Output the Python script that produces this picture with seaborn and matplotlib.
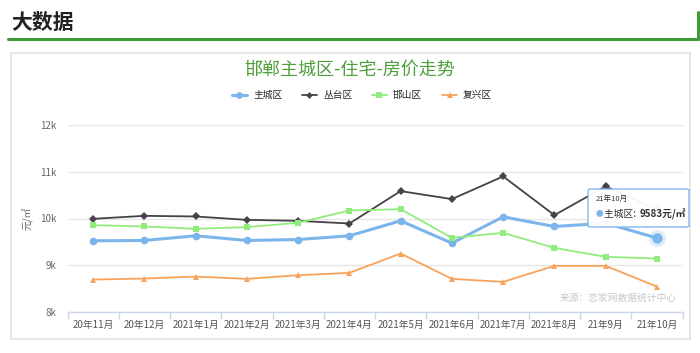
import numpy as np
import pandas as pd
import seaborn as sns
import matplotlib.pyplot as plt
from matplotlib.patches import Rectangle, FancyBboxPatch
from matplotlib.lines import Line2D

# data (元/㎡)
months = ['20年11月', '20年12月', '2021年1月', '2021年2月', '2021年3月', '2021年4月',
          '2021年5月', '2021年6月', '2021年7月', '2021年8月', '21年9月', '21年10月']
zhucheng = [9523, 9530, 9630, 9530, 9550, 9630, 9950, 9473, 10036, 9829, 9900, 9583]
congtai = [9993, 10057, 10043, 9971, 9950, 9893, 10586, 10415, 10900, 10072, 10686, 10200]
hanshan = [9858, 9829, 9779, 9815, 9908, 10171, 10200, 9587, 9693, 9372, 9180, 9144]
fuxing = [8694, 8716, 8758, 8709, 8787, 8837, 9251, 8709, 8644, 8987, 8987, 8544]
names = ['主城区', '丛台区', '邯山区', '复兴区']
yticks = [8000, 9000, 10000, 11000, 12000]
ytick_labels = ['8k', '9k', '10k', '11k', '12k']

sns.set_theme(style='white')
plt.rcParams['font.family'] = ['Noto Sans CJK SC', 'DejaVu Sans']

colors = ['#7cb5ec', '#434348', '#90ed7d', '#f7a35c']
markers = ['o', 'D', 's', '^']
msizes = [5.5, 3.8, 5, 5]
lwidths = [2.2, 1.3, 1.3, 1.3]

W, H = 700, 353
fig = plt.figure(figsize=(W / 100, H / 100), dpi=100)

def fx(px):
    return px / W

def fy(py):
    return 1 - py / H

# page header
fig.text(fx(11), fy(22), '大数据', fontsize=15, fontweight='bold', color='#222222',
         va='center', ha='left')
fig.add_artist(Line2D([fx(8), fx(698)], [fy(38.5), fy(38.5)], color='#3f9a35', lw=2.2))
fig.add_artist(Line2D([fx(698), fx(698)], [fy(12), fy(39)], color='#3f9a35', lw=2.2))
# chart frame
fig.add_artist(Rectangle((fx(11), fy(339)), fx(690) - fx(11), fy(53) - fy(339),
                         transform=fig.transFigure, fill=False, edgecolor='#e2e2e2', lw=1.2))

fig.text(0.5, fy(70), '邯郸主城区-住宅-房价走势', fontsize=13, color='#4f9e3c',
         ha='center', va='center')

ax = fig.add_axes([fx(67.5), fy(312), fx(682.5) - fx(67.5), fy(125) - fy(312)])

series = [zhucheng, congtai, hanshan, fuxing]
for name, vals, c, m, ms, lw in zip(names, series, colors, markers, msizes, lwidths):
    df = pd.DataFrame({'month': months, 'price': vals})
    sns.lineplot(data=df, x='month', y='price', ax=ax, color=c, marker=m,
                 markersize=ms, linewidth=lw, markeredgewidth=0, label=name, zorder=3)

# hovered point
ax.scatter([months[-1]], [zhucheng[-1]], s=150, color=colors[0], alpha=0.25, lw=0, zorder=4)
ax.scatter([months[-1]], [zhucheng[-1]], s=55, color=colors[0], lw=0, zorder=5)

ax.set_xlim(-0.5, len(months) - 0.5)
ax.set_ylim(8000, 12000)
ax.set_yticks(yticks)
ax.set_yticklabels(ytick_labels)
ax.set_xlabel('')
ax.set_ylabel('元/㎡', fontsize=7, color='#666666', labelpad=5)
ax.grid(axis='y', color='#e6e6e6', lw=1)
ax.grid(axis='x', visible=False)
for s in ['top', 'right', 'left']:
    ax.spines[s].set_visible(False)
ax.spines['bottom'].set_color('#ccd6eb')
ax.spines['bottom'].set_linewidth(1)
ax.tick_params(axis='y', length=0, labelsize=7, labelcolor='#666666', pad=8)
ax.tick_params(axis='x', which='major', length=0, labelsize=7, labelcolor='#555555', pad=6)
ax.set_xticks(np.arange(-0.5, len(months), 1), minor=True)
ax.tick_params(axis='x', which='minor', bottom=True, length=5, color='#ccd6eb', width=1)

# legend
handles, labels = ax.get_legend_handles_labels()
ax.legend_.remove()
fig.legend(handles, labels, loc='center', bbox_to_anchor=(fx(362), fy(95)), ncol=4,
           frameon=False, fontsize=7, handlelength=1.6, columnspacing=2.0,
           handletextpad=0.6, markerscale=0.9)

# source note
fig.text(fx(677), fy(298), '来源：恋家网数据统计中心', fontsize=7, color='#c8c8c8',
         ha='right', va='center')

# tooltip
tip = FancyBboxPatch((fx(588), fy(227)), fx(689) - fx(588), fy(189) - fy(227),
                     boxstyle='round,pad=0,rounding_size=0.004', transform=fig.transFigure,
                     facecolor='white', edgecolor=colors[0], lw=1, alpha=0.96, zorder=10)
fig.add_artist(tip)
fig.text(fx(596), fy(199), '21年10月', fontsize=5.5, color='#333333', va='center', zorder=11)
fig.text(fx(596), fy(214), '●', fontsize=5.5, color=colors[0], va='center', zorder=11)
fig.text(fx(604), fy(214), '主城区: ', fontsize=7, color='#333333', va='center', zorder=11)
fig.text(fx(640), fy(214), f'{zhucheng[-1]}元/㎡', fontsize=7, fontweight='bold',
         color='#333333', va='center', zorder=11)

fig.savefig('out.png', dpi=100)
